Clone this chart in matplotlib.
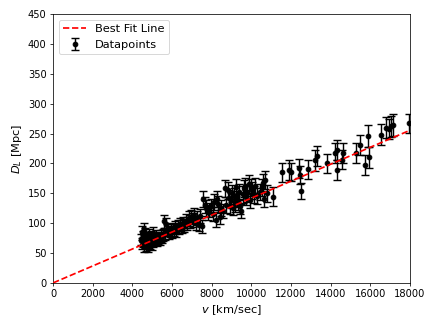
import numpy as np
import matplotlib
matplotlib.use("Agg")
import matplotlib.pyplot as plt

# recession velocity [km/sec]
velocity = [
    4450, 4480, 4500, 4520, 4540, 4560, 4580, 4600, 4620, 4650,
    4680, 4700, 4730, 4760, 4790, 4820, 4850, 4880, 4910, 4950,
    4980, 5020, 5060, 5100, 5140, 5180, 5230, 5280, 5330, 5380,
    5430, 5480, 5540, 5600, 5650, 5700, 5760, 5820, 5880, 5950,
    6020, 6080, 6150, 6220, 6290, 6350, 6420, 6480, 6550, 6620,
    6700, 6760, 6830, 6900, 6970, 7050, 7120, 7200, 7280, 7350,
    7420, 7500, 7580, 7650, 7720, 7800, 7880, 7950, 8050, 8120,
    8200, 8260, 8330, 8400, 8480, 8560, 8650, 8720, 8800, 8860,
    8920, 8980, 9040, 9100, 9150, 9200, 9250, 9300, 9350, 9400,
    9450, 9500, 9560, 9620, 9680, 9740, 9800, 9860, 9920, 9980,
    10050, 10120, 10200, 10300, 10450, 10550, 10600, 10650, 10700, 10780,
    11100, 11550, 11900, 12000, 12420, 12460, 12500, 12880, 13200, 13300,
    13800, 14220, 14300, 14340, 14600, 14640, 15280, 15480, 15730, 15900,
    15950, 16540, 16790, 16960, 17050, 17160, 17970,
]

# luminosity distance [Mpc]
distance = [
    72, 85, 64, 78, 68, 90, 60, 74, 66, 82,
    70, 62, 76, 67, 59, 73, 80, 65, 71, 77,
    63, 84, 69, 75, 72, 79, 70, 74, 76, 73,
    78, 75, 80, 103, 82, 98, 88, 84, 86, 90,
    85, 89, 93, 87, 95, 91, 98, 94, 100, 96,
    104, 99, 108, 102, 110, 105, 113, 100, 109, 97,
    112, 95, 140, 130, 125, 118, 122, 128, 115, 135,
    105, 140, 132, 110, 125, 120, 158, 130, 155, 142,
    128, 138, 150, 125, 145, 132, 160, 140, 135, 152,
    128, 120, 148, 158, 162, 143, 150, 165, 138, 160,
    155, 148, 162, 145, 152, 160, 167, 140, 172, 150,
    144, 185, 189, 186, 192, 181, 154, 190, 205, 212,
    200, 217, 222, 189, 206, 217, 217, 231, 197, 246,
    210, 248, 260, 257, 262, 264, 267,
]

# distance uncertainty [Mpc]
distance_err = [
    9, 10, 8, 9, 8, 10, 8, 9, 8, 10,
    9, 8, 9, 8, 8, 9, 10, 8, 9, 9,
    8, 10, 9, 9, 9, 10, 9, 9, 9, 9,
    10, 9, 10, 11, 10, 11, 10, 10, 10, 11,
    10, 10, 11, 10, 11, 10, 11, 11, 11, 11,
    12, 11, 12, 11, 12, 12, 12, 11, 12, 11,
    12, 11, 13, 13, 13, 12, 12, 13, 12, 13,
    12, 13, 13, 12, 13, 12, 14, 13, 14, 13,
    13, 13, 14, 12, 13, 13, 14, 13, 13, 14,
    13, 12, 14, 14, 14, 13, 14, 15, 13, 14,
    14, 14, 14, 13, 14, 14, 15, 13, 15, 14,
    16, 16, 16, 15, 16, 15, 14, 16, 17, 17,
    16, 17, 17, 16, 16, 17, 17, 17, 17, 18,
    17, 18, 18, 17, 18, 18, 16,
]

# fitted Hubble constant [km/sec/Mpc]
hubble_const = 70.5

fig, ax = plt.subplots(figsize=(6.4, 4.8), dpi=68.125)
fig.subplots_adjust(left=0.122, right=0.940, bottom=0.135, top=0.957)

ax.errorbar(velocity, distance, yerr=distance_err, fmt="o", color="black",
            markersize=5, capsize=4, elinewidth=1.5, capthick=1.5,
            label="Datapoints")

v_line = np.array([0, 18000])
ax.plot(v_line, v_line / hubble_const, "r--", linewidth=1.8, zorder=3,
        label="Best Fit Line")

ax.set_xlim(0, 18000)
ax.set_ylim(0, 450)
ax.set_xticks(np.arange(0, 18001, 2000))
ax.set_yticks(np.arange(0, 451, 50))
ax.tick_params(labelsize=10.5)
ax.set_xlabel("$v$ [km/sec]", fontsize=12)
ax.set_ylabel("$D_L$ [Mpc]", fontsize=12)
ax.legend(loc="upper left", fontsize=12)

fig.savefig("out.png")
